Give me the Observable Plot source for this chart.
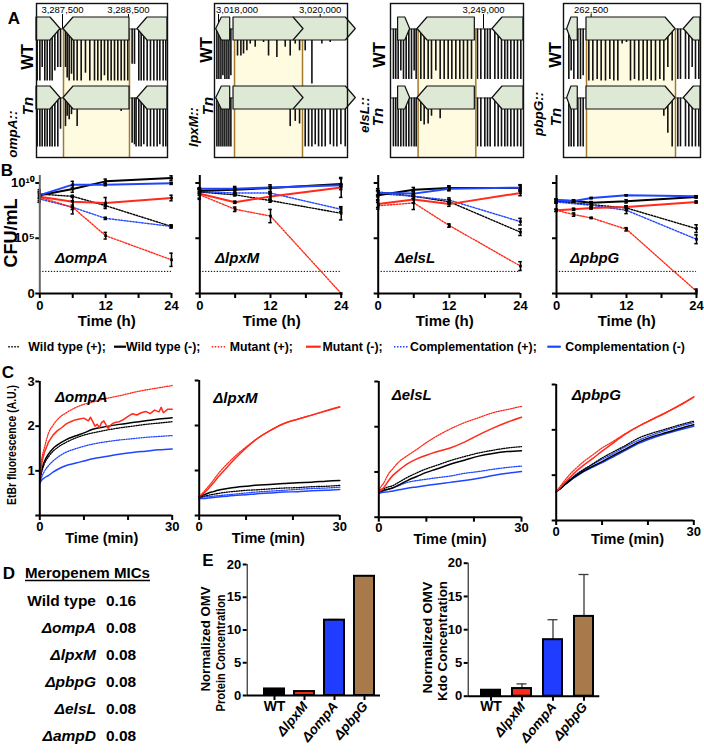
<!DOCTYPE html>
<html><head><meta charset="utf-8">
<script src="https://cdn.jsdelivr.net/npm/d3@7"></script>
<script src="https://cdn.jsdelivr.net/npm/@observablehq/plot@0.6"></script>
<style>
body{margin:0;background:#fff;}
#fig{position:relative;width:704px;height:754px;overflow:hidden;background:#fff;}
#fig svg{overflow:visible;}
.ax g[aria-label*="axis"] line,.ax g[aria-label*="axis"] path{stroke-width:2px;}
</style>
</head><body><div id="fig"></div>
<script>
// ================= DATA =================
// ---- Panel A: Tn-seq insertion profiles (genome bp, normalized reads 0-100) ----
const ompA_domain = [3287106, 3289091];
const ompA_ticks = [3287500, 3288500];
const ompA_genes = [[3287000, 3287470, 1], [3287515, 3288515, -1], [3288636, 3289200, -1]];
const ompA_target = [3287515, 3288515];
const ompA_sites = [3287116,3287157,3287192,3287232,3287268,3287308,3287343,3287384,3287429,3287470,
  3287545,3287571,3287601,3287636,3287672,3287722,3287783,3287848,3287914,3287985,3288035,3288086,3288136,3288187,3288237,3288288,3288338,3288389,3288439,3288490,
  3288555,3288591,3288615,
  3288656,3288692,3288732,3288783,3288833,3288884,3288934,3288975,3289025,3289065];
const ompA_wtReads = [100,100,74,100,100,100,100,81,74,74,
  74,94,100,87,100,100,100,85,100,100,100,100,90,100,100,100,100,100,100,100,
  68,68,0,
  100,100,100,100,100,100,100,100,100,100];
const ompA_tnReads = [94,94,94,94,94,94,94,94,94,60,
  55,35,42,32,23,55,0,0,0,0,0,0,0,0,0,0,0,26,0,0,
  87,90,94,
  94,94,90,94,94,94,94,90,94,94];

const lpxM_domain = [3017921, 3020537];
const lpxM_ticks = [3018000, 3020000];
const lpxM_genes = [[3017955, 3018230, -1], [3019475, 3020700, 1], [3018295, 3019672, 1]];
const lpxM_target = [3018315, 3019652];
const lpxM_sites = [3017968,3018007,3018047,3018086,3018125,3018165,3018204,3018243,
  3018374,3018440,3018492,3018558,3018624,3018722,3018886,3018984,3019148,3019312,3019410,3019509,3019594,
  3019705,3019771,3019837,3019902,3019968,3020033,3020099,3020197,3020263,3020328,3020407,3020492];
const lpxM_wtReads = [97,97,97,90,97,97,97,90,
  52,52,48,42,29,35,26,52,55,35,52,29,42,
  42,0,106,0,0,29,0,26,0,0,0,0];
const lpxM_tnReads = [94,94,94,94,94,94,94,94,
  0,0,0,0,0,0,0,0,0,0,55,45,50,
  94,94,94,90,94,94,94,90,94,94,90,94];

const elsL_domain = [3247605, 3249600];
const elsL_ticks = [3249000];
const elsL_genes = [[3247719, 3247899, 1], [3248010, 3248870, -1], [3249135, 3249700, -1]];
const elsL_target = [3248019, 3248885];
const elsL_sites = [3247649,3247684,3247720,3247760,3247800,3247840,3247880,3247920,3247960,3247990,
  3248060,3248110,3248170,3248220,3248285,3248350,3248410,3248470,3248525,3248585,3248645,3248700,3248760,3248820,
  3248910,3248960,3249020,3249060,3249100,
  3249170,3249220,3249270,3249320,3249360,3249410,3249460,3249510,3249560];
const elsL_wtReads = [97,97,97,81,97,97,97,97,81,97,
  97,97,97,97,81,97,97,97,97,97,97,97,97,97,
  97,97,97,97,97,
  97,97,97,97,97,97,97,97,97];
const elsL_tnReads = [94,94,94,94,94,94,94,94,94,94,
  45,52,50,35,0,40,0,0,0,0,0,0,0,0,
  94,94,94,94,94,
  94,94,94,94,94,94,94,94,94];

const pbpG_domain = [262085, 264140];
const pbpG_ticks = [262500];
const pbpG_genes = [[262140, 262299, -1], [262430, 263765, 1], [263889, 264300, -1]];
const pbpG_target = [262430, 263765];
const pbpG_sites = [262165,262200,262240,262300,262340,262380,
  262465,262525,262590,262650,262715,262780,262840,262900,262965,263030,263090,263150,263215,263280,263340,263400,263465,263530,263590,263650,263715,
  263800,263840,
  263915,263965,264015,264065,264115];
const pbpG_wtReads = [97,81,97,97,97,90,
  100,100,97,100,100,97,100,100,29,26,100,97,100,100,97,100,100,97,100,74,100,
  97,97,
  97,97,74,97,97];
const pbpG_tnReads = [94,94,94,94,94,94,
  0,0,0,0,0,0,0,0,0,0,0,0,0,0,0,0,0,0,35,68,94,
  94,94,
  94,94,94,94,94];

// ---- Panel B: survival, log10 CFU/mL; series order: WT(+), WT(-), Mutant(+), Mutant(-), Comp(+), Comp(-) ----
const seriesNames = ["Wild type (+);", "Wild type (-);", "Mutant (+);", "Mutant (-);", "Complementation (+);", "Complementation (-)"];
const cfuTimes = [0, 6, 12, 24];
const cfuTimesPbpG = [0, 3, 6, 12, 24];
const cfuLOD = 2;
const cfuOmpA = [[9.0, 8.79, 7.95, 6.07], [8.9, 9.46, 10.15, 10.45], [8.7, 7.8, 5.23, 3.05], [8.76, 8.3, 8.19, 8.64], [8.55, 7.8, 6.8, 6.07], [8.9, 9.85, 9.85, 9.97]];
const cfuOmpA_sd = [[0.4, 0.1, 0.1, 0.1], [0.3, 0.3, 0.2, 0.2], [0.3, 0.6, 0.3, 0.6], [0.5, 0.5, 0.5, 0.25], [0.3, 0.2, 0.1, 0.15], [0.2, 0.3, 0.1, 0.1]];
const cfuLpxM = [[9.18, 8.93, 8.41, 7.26], [9.3, 9.39, 9.54, 9.9], [8.93, 7.62, 7.01, 0], [9.02, 8.26, 8.78, 9.6], [9.24, 9.09, 9.09, 7.62], [9.48, 9.48, 9.6, 9.79]];
const cfuLpxM_sd = [[0.3, 0.1, 0.15, 0.6], [0.2, 0.3, 0.3, 0.5], [0.3, 0.2, 0.6, 0], [0.5, 0.1, 0.3, 0.9], [0.2, 0.1, 0.1, 0.2], [0.1, 0.1, 0.1, 0.1]];
const cfuElsL = [[9.19, 8.8, 8.3, 5.55], [8.9, 9.4, 9.55, 9.55], [7.94, 8.2, 6.15, 2.48], [8.09, 8.5, 8.09, 9.1], [9.04, 8.8, 8.45, 6.5], [9.1, 9.04, 9.49, 9.58]];
const cfuElsL_sd = [[0.3, 0.2, 0.2, 0.3], [0.4, 0.2, 0.2, 0.3], [0.3, 0.6, 0.15, 0.4], [0.3, 0.3, 0.2, 0.25], [0.3, 0.2, 0.2, 0.3], [0.2, 0.2, 0.2, 0.2]];
const cfuPbpG = [[8.34, null, 8.04, 7.74, 5.87], [8.43, 8.37, 8.22, 8.34, 8.73], [7.53, 7.14, 6.84, 5.81, 0.2], [7.53, 7.62, 7.74, 7.83, 8.28], [8.28, null, 7.98, 7.53, 4.91], [8.43, 8.37, 8.64, 8.89, 8.8]];
const cfuPbpG_sd = [[0.15, 0, 0.2, 0.2, 0.35], [0.15, 0.1, 0.1, 0.15, 0.1], [0.1, 0.15, 0.05, 0.15, 0.2], [0.1, 0.1, 0.1, 0.1, 0.1], [0.1, 0, 0.3, 0.3, 0.4], [0.1, 0.1, 0.05, 0.05, 0.05]];
const cfuTickLabels = ["0", "10⁵", "10¹⁰"];

// ---- Panel C: EtBr fluorescence (A.U.) over time (min) ----
const etbrTime = [0, 0.5, 1, 2, 3, 4, 6, 8, 10, 12, 15, 18, 21, 24, 27, 30];
const etbrOmpA = [
  [0.8, 1.0, 1.15, 1.32, 1.44, 1.52, 1.64, 1.73, 1.8, 1.85, 1.91, 1.96, 2.0, 2.04, 2.07, 2.1],
  [0.8, 1.05, 1.2, 1.38, 1.5, 1.58, 1.7, 1.78, 1.85, 1.93, 1.99, 2.04, 2.08, 2.12, 2.16, 2.19],
  [0.9, 1.3, 1.5, 1.85, 2.02, 2.15, 2.3, 2.41, 2.49, 2.54, 2.62, 2.68, 2.75, 2.81, 2.86, 2.91],
  null,
  [0.75, 0.88, 0.98, 1.12, 1.22, 1.3, 1.42, 1.49, 1.55, 1.6, 1.65, 1.69, 1.72, 1.75, 1.77, 1.79],
  [0.72, 0.8, 0.84, 0.9, 0.97, 1.03, 1.12, 1.17, 1.22, 1.27, 1.32, 1.37, 1.41, 1.44, 1.47, 1.49]];
const etbrOmpA_mutMinusTime = [0,0.5,1,2,3,4,5,6,7,8,9,10,11,11.5,12,12.5,13,13.5,14,14.5,15,15.5,16,16.5,17,18,19,20,21,22,23,24,25,26,27,27.5,28,29,30];
const etbrOmpA_mutMinus = [0.85,1.2,1.4,1.65,1.8,1.9,1.97,2.05,2.1,2.14,2.16,2.18,2.12,2.2,2.1,2.0,2.04,1.97,2.08,2.12,2.03,1.95,2.02,2.06,2.08,2.1,2.15,2.22,2.28,2.25,2.3,2.33,2.28,2.36,2.32,2.42,2.3,2.38,2.38];
const etbrLpxM = [
  [0.41, 0.42, 0.43, 0.45, 0.47, 0.49, 0.52, 0.54, 0.56, 0.57, 0.59, 0.61, 0.62, 0.64, 0.65, 0.67],
  [0.41, 0.44, 0.46, 0.5, 0.53, 0.56, 0.6, 0.63, 0.65, 0.67, 0.69, 0.71, 0.73, 0.74, 0.76, 0.78],
  [0.41, 0.47, 0.53, 0.65, 0.78, 0.92, 1.15, 1.35, 1.52, 1.68, 1.88, 2.04, 2.14, 2.23, 2.33, 2.42],
  [0.41, 0.46, 0.5, 0.6, 0.72, 0.85, 1.08, 1.3, 1.5, 1.68, 1.88, 2.04, 2.14, 2.23, 2.32, 2.41],
  [0.39, 0.4, 0.41, 0.42, 0.43, 0.44, 0.46, 0.48, 0.5, 0.52, 0.54, 0.56, 0.58, 0.6, 0.61, 0.63],
  [0.37, 0.38, 0.38, 0.39, 0.4, 0.41, 0.43, 0.45, 0.46, 0.48, 0.5, 0.52, 0.53, 0.55, 0.56, 0.58]];
const etbrElsL = [
  [0.59, 0.61, 0.63, 0.67, 0.7, 0.76, 0.88, 0.98, 1.07, 1.14, 1.25, 1.34, 1.42, 1.48, 1.53, 1.56],
  [0.55, 0.57, 0.59, 0.62, 0.65, 0.7, 0.81, 0.9, 0.99, 1.06, 1.17, 1.26, 1.35, 1.41, 1.45, 1.47],
  [0.59, 0.68, 0.75, 0.95, 1.08, 1.2, 1.36, 1.5, 1.65, 1.78, 1.95, 2.09, 2.2, 2.31, 2.38, 2.45],
  [0.55, 0.6, 0.65, 0.8, 0.93, 1.02, 1.18, 1.29, 1.37, 1.44, 1.53, 1.66, 1.82, 1.97, 2.1, 2.21],
  [0.55, 0.57, 0.59, 0.62, 0.65, 0.69, 0.77, 0.81, 0.84, 0.87, 0.91, 0.97, 1.01, 1.06, 1.1, 1.13],
  [0.53, 0.54, 0.55, 0.56, 0.58, 0.6, 0.64, 0.67, 0.7, 0.73, 0.77, 0.81, 0.86, 0.92, 0.97, 1.01]];
const etbrPbpG = [
  [0.63, 0.68, 0.72, 0.82, 0.9, 0.98, 1.12, 1.25, 1.38, 1.49, 1.65, 1.82, 1.93, 2.02, 2.11, 2.19],
  [0.63, 0.67, 0.71, 0.8, 0.88, 0.96, 1.09, 1.2, 1.3, 1.41, 1.57, 1.73, 1.85, 1.94, 2.03, 2.11],
  [0.63, 0.7, 0.77, 0.9, 1.02, 1.12, 1.3, 1.45, 1.6, 1.72, 1.91, 2.08, 2.24, 2.39, 2.54, 2.72],
  [0.63, 0.69, 0.74, 0.85, 0.95, 1.05, 1.22, 1.37, 1.53, 1.68, 1.9, 2.08, 2.23, 2.38, 2.55, 2.73],
  [0.63, 0.68, 0.72, 0.82, 0.9, 0.99, 1.13, 1.24, 1.35, 1.45, 1.62, 1.77, 1.89, 1.99, 2.08, 2.16],
  [0.63, 0.67, 0.71, 0.8, 0.88, 0.95, 1.08, 1.18, 1.28, 1.38, 1.54, 1.7, 1.82, 1.92, 2.0, 2.08]];

// ---- Panel D: Meropenem MICs ----
const micStrains = ["Wild type", "ΔompA", "ΔlpxM", "ΔpbpG", "ΔelsL", "ΔampD"];
const micValues = [0.16, 0.08, 0.08, 0.08, 0.08, 0.08];

// ---- Panel E: normalized OMV ----
const omvStrains = ["WT", "ΔlpxM", "ΔompA", "ΔpbpG"];
const omvProtein = [1.0, 0.6, 11.5, 18.2];
const omvProtein_sd = [0.05, 0.05, 0.1, 0.1];
const omvKdo = [0.9, 1.15, 8.5, 12.0];
const omvKdo_sd = [0, 0.7, 3.0, 6.3];

// ================= STYLE =================
const FONT = '"Liberation Sans", Arial, Helvetica, sans-serif';
const seriesColors = ["#000000", "#000000", "#ff2a1a", "#ff2a1a", "#1f45ff", "#1f45ff"];
const seriesDotted = [true, false, true, false, true, false];
const omvColors = ["#000000", "#ff2a1a", "#1f3cff", "#a8794a"];
const baseStyle = {fontFamily: FONT, fontSize: "13px", fontWeight: "bold", color: "#000", background: "transparent", overflow: "visible"};

const fig = document.getElementById("fig");
function place(node, left, top, cls) {
  const d = document.createElement("div");
  d.style.position = "absolute"; d.style.left = left + "px"; d.style.top = top + "px";
  if (cls) d.className = cls;
  d.appendChild(node); fig.appendChild(d);
}

// ---------- Panel A ----------
function trackPlot(t, x0, x1) {
  const W = x1 - x0, H = 154;
  const bpPx = (t.domain[1] - t.domain[0]) / W;
  const lanes = [{base: 25.5, reads: t.wt}, {base: 94.5, reads: t.tn}];
  const half = 11.5, k = 0.52;
  const genePts = [];
  lanes.forEach((ln, li) => t.genes.forEach(([s, e, str], gi) => {
    const s2 = Math.max(s, t.domain[0]), e2 = Math.min(e, t.domain[1]);
    const tip = Math.min(10 * bpPx, 0.4 * (e - s));
    const top = ln.base - half, bot = ln.base + half, id = li + "-" + gi;
    if (str > 0) genePts.push({id, x: s2, y1: top, y2: bot}, {id, x: e - tip, y1: top, y2: bot}, {id, x: e, y1: ln.base, y2: ln.base});
    else genePts.push({id, x: s, y1: ln.base, y2: ln.base}, {id, x: s + tip, y1: top, y2: bot}, {id, x: e2, y1: top, y2: bot});
  }));
  const bars = [];
  lanes.forEach(ln => t.sites.forEach((x, i) => { if (ln.reads[i] > 0) bars.push({x, y1: ln.base, y2: ln.base + ln.reads[i] * k}); }));
  const labelX = t.ticks.map(v => {
    const px = (v - t.domain[0]) / bpPx;
    return t.domain[0] + Math.max(22.5, Math.min(W - 22.5, px)) * bpPx;
  });
  const svg = Plot.plot({
    width: W + 2, height: H + 2, margin: 1,
    x: {domain: t.domain, axis: null},
    y: {domain: [0, H], range: [1, H + 1], axis: null},
    style: baseStyle,
    marks: [
      Plot.rect([t.target], {x1: d => d[0], x2: d => d[1], y1: 25.5, y2: H, fill: "#fffbe1"}),
      Plot.ruleY(lanes, {y: "base", stroke: "#333", strokeWidth: 1}),
      Plot.ruleX(t.ticks, {x: d => d, y1: 11, y2: 25.5, stroke: "#000", strokeWidth: 1}),
      Plot.ruleX(bars, {x: "x", y1: "y1", y2: "y2", stroke: "#111", strokeWidth: 1.6}),
      Plot.ruleX(t.target, {x: d => d, y1: 25.5, y2: H, stroke: "#a27a2c", strokeWidth: 1.5}),
      Plot.areaY(genePts, {x: "x", y1: "y1", y2: "y2", z: "id", fill: "#dde9d4", stroke: "#111", strokeWidth: 1.2}),
      Plot.text(t.ticks, {x: (d, i) => labelX[i], y: 6.5, text: d => d3.format(",")(d), fontSize: 9.5, fontWeight: "normal"}),
      Plot.frame({stroke: "#111", strokeWidth: 1.4})
    ]
  });
  place(svg, x0 - 1, 2);
}
trackPlot({domain: ompA_domain, ticks: ompA_ticks, genes: ompA_genes, target: ompA_target, sites: ompA_sites, wt: ompA_wtReads, tn: ompA_tnReads}, 36, 167);
trackPlot({domain: lpxM_domain, ticks: lpxM_ticks, genes: lpxM_genes, target: lpxM_target, sites: lpxM_sites, wt: lpxM_wtReads, tn: lpxM_tnReads}, 214, 347);
trackPlot({domain: elsL_domain, ticks: elsL_ticks, genes: elsL_genes, target: elsL_target, sites: elsL_sites, wt: elsL_wtReads, tn: elsL_tnReads}, 390, 523);
trackPlot({domain: pbpG_domain, ticks: pbpG_ticks, genes: pbpG_genes, target: pbpG_target, sites: pbpG_sites, wt: pbpG_wtReads, tn: pbpG_tnReads}, 563, 700);

// ---------- Panel B ----------
function cfuPlot(times, means, sds, g, showY) {
  const rows = [];
  means.forEach((arr, si) => arr.forEach((v, i) => { if (v != null) rows.push({s: si, t: times[i], v, e: sds[si][i]}); }));
  const marks = [Plot.ruleY([cfuLOD], {x1: 0, x2: 24, stroke: "#000", strokeWidth: 1, strokeDasharray: "1.3,1.6"})];
  for (const si of [0, 4, 2, 1, 5, 3]) {
    marks.push(Plot.line(rows.filter(r => r.s === si), {x: "t", y: "v", stroke: seriesColors[si],
      strokeWidth: seriesDotted[si] ? 1.4 : 2, strokeDasharray: seriesDotted[si] ? "1.5,1.5" : "none"}));
  }
  const eb = rows.filter(r => r.e > 0);
  marks.push(
    Plot.ruleX(eb, {x: "t", y1: r => r.v - r.e, y2: r => r.v + r.e, stroke: "#000", strokeWidth: 1.5}),
    Plot.ruleY(eb, {y: r => r.v + r.e, x1: r => r.t - 0.3, x2: r => r.t + 0.3, stroke: "#000", strokeWidth: 1.5}),
    Plot.ruleY(eb, {y: r => r.v - r.e, x1: r => r.t - 0.3, x2: r => r.t + 0.3, stroke: "#000", strokeWidth: 1.5}),
    Plot.dot(rows, {x: "t", y: "v", r: 1.5, fill: "#000", symbol: "square"}),
    Plot.ruleX([0], {stroke: showY ? "#666" : "#000", strokeWidth: 2}),
    Plot.ruleY([0], {stroke: "#000", strokeWidth: 2})
  );
  const svg = Plot.plot({
    width: g.w, height: 170, marginLeft: g.ml, marginRight: g.mr, marginTop: 10, marginBottom: 42,
    x: {domain: [0, 24], ticks: [0, 6, 12, 18, 24], tickFormat: d => d % 12 === 0 ? String(d) : "", tickSize: 5, tickPadding: 2, label: null},
    y: {domain: [0, 10.68], ticks: [0, 5, 10], tickFormat: (d, i) => showY ? cfuTickLabels[i] : "", tickSize: 4, tickPadding: 1, label: null},
    style: baseStyle,
    marks
  });
  place(svg, g.left, 165, "ax");
}
cfuPlot(cfuTimes, cfuOmpA, cfuOmpA_sd, {left: 0, w: 180, ml: 39.3, mr: 9}, true);
cfuPlot(cfuTimes, cfuLpxM, cfuLpxM_sd, {left: 180, w: 175, ml: 19.3, mr: 14.3}, false);
cfuPlot(cfuTimes, cfuElsL, cfuElsL_sd, {left: 355, w: 175, ml: 22.7, mr: 10}, false);
cfuPlot(cfuTimesPbpG, cfuPbpG, cfuPbpG_sd, {left: 535, w: 169, ml: 21, mr: 8}, false);

// ---------- Panel C ----------
function etbrPlot(series, g, showY, extra) {
  const marks = [];
  for (const si of [4, 5, 0, 1, 2, 3]) {
    let rows;
    if (series[si]) rows = etbrTime.map((t, i) => ({t, v: series[si][i]}));
    else rows = extra.time.map((t, i) => ({t, v: extra.values[i]}));
    marks.push(Plot.line(rows, {x: "t", y: "v", stroke: seriesColors[si], curve: series[si] ? "monotone-x" : "linear",
      strokeWidth: seriesDotted[si] ? 1.3 : 1.5, strokeDasharray: seriesDotted[si] ? "1.2,1.3" : "none"}));
  }
  marks.push(Plot.ruleX([0], {stroke: "#000", strokeWidth: 2}), Plot.ruleY([0], {stroke: "#000", strokeWidth: 2}));
  const svg = Plot.plot({
    width: g.w, height: 180, marginLeft: g.ml, marginRight: g.mr, marginTop: g.mt, marginBottom: g.mb,
    x: {domain: [0, 30], ticks: [0, 10, 20, 30], tickFormat: d => (d === 0 || d === 30) ? String(d) : "", tickSize: 5, tickPadding: 1, label: null},
    y: {domain: [0, 3], ticks: [0, 1, 2, 3], tickFormat: d => (showY && d > 0) ? String(d) : "", tickSize: 4, tickPadding: 1, label: null},
    style: baseStyle,
    marks
  });
  place(svg, g.left, 365, "ax");
}
etbrPlot(etbrOmpA, {left: 0, w: 180, ml: 39.3, mr: 8.3, mt: 16, mb: 30}, true, {time: etbrOmpA_mutMinusTime, values: etbrOmpA_mutMinus});
etbrPlot(etbrLpxM, {left: 180, w: 170, ml: 18.7, mr: 10.7, mt: 15, mb: 30}, false);
etbrPlot(etbrElsL, {left: 355, w: 175, ml: 23.3, mr: 9, mt: 16, mb: 28.3}, false);
etbrPlot(etbrPbpG, {left: 535, w: 165, ml: 20.7, mr: 6.7, mt: 19, mb: 25}, false);

// ---------- Panel E ----------
function omvPlot(values, sds, g) {
  const rows = omvStrains.map((c, i) => ({c, v: values[i], e: sds[i], fill: omvColors[i]}));
  const eb = rows.filter(r => r.e > 0);
  const svg = Plot.plot({
    width: 165, height: 209, marginLeft: g.ml, marginRight: g.mr, marginTop: g.mt, marginBottom: g.mb,
    x: {type: "band", domain: omvStrains, range: g.range, paddingInner: g.pi, paddingOuter: g.po, tickSize: 5, tickFormat: () => "", label: null},
    y: {domain: [0, 20], ticks: [0, 5, 10, 15, 20], tickSize: 4, tickPadding: 2, label: null, line: true},
    color: {type: "identity"},
    style: baseStyle,
    marks: [
      Plot.ruleX(eb, {x: "c", y1: "v", y2: r => r.v + r.e, stroke: "#3a3a3a", strokeWidth: 1.3}),
      Plot.tickY(eb, {x: "c", y: r => r.v + r.e, insetLeft: 4.5, insetRight: 4.5, stroke: "#3a3a3a", strokeWidth: 1.3}),
      Plot.barY(rows, {x: "c", y: "v", fill: r => r.fill, stroke: "#000", strokeWidth: 2}),
      Plot.ruleY([0], {stroke: "#000", strokeWidth: 2}),
      Plot.text(omvStrains.slice(0, 1), {x: d => d, frameAnchor: "bottom", dy: 15, fontSize: 14, fontWeight: "bold"}),
      Plot.text(omvStrains.slice(1), {x: d => d, frameAnchor: "bottom", dy: 11, dx: 4, rotate: -50, textAnchor: "end", fontSize: 13.5, fontWeight: "bold", fontStyle: "italic"})
    ]
  });
  place(svg, g.left, 545, "ax");
}
omvPlot(omvProtein, omvProtein_sd, {left: 225, ml: 21.7, mr: 10, mt: 19, mb: 59, range: [32, 155], pi: 0.35, po: 0.175});
omvPlot(omvKdo, omvKdo_sd, {left: 445, ml: 22.7, mr: 10.7, mt: 17.7, mb: 58.3, range: [28.7, 155.6], pi: 0.38, po: 0.2});

// ---------- Text overlay (panel letters, axis titles, legend, table D) ----------
const ov = d3.create("svg").attr("width", 704).attr("height", 754)
  .style("position", "absolute").style("left", "0px").style("top", "0px")
  .style("font-family", FONT).style("font-weight", "bold").style("overflow", "visible");
function txt(x, y, s, o = {}) {
  const t = ov.append("text").attr("x", x).attr("y", y).attr("dominant-baseline", "central")
    .attr("text-anchor", o.anchor || "middle").attr("font-size", o.size || 13).text(s);
  if (o.italic) t.attr("font-style", "italic");
  if (o.weight) t.attr("font-weight", o.weight);
  if (o.rot) t.attr("x", 0).attr("y", 0).attr("transform", `translate(${x},${y}) rotate(${o.rot})`);
  if (o.len) t.attr("textLength", o.len).attr("lengthAdjust", "spacingAndGlyphs");
  return t;
}
// panel letters
txt(14, 18.5, "A", {size: 17}); txt(7, 170, "B", {size: 17}); txt(8, 372, "C", {size: 17});
txt(9, 573, "D", {size: 17}); txt(208, 560.5, "E", {size: 17});
// panel A labels
const aLabels = [
  {wt: [27, 57], g: "ompA::", gp: [12.5, 134], tn: [27, 106]},
  {wt: [206, 50], g: "lpxM::", gp: [193.5, 127], tn: [207, 106]},
  {wt: [379, 55], g: "elsL::", gp: [364, 115], tn: [377.5, 117]},
  {wt: [555, 55], g: "pbpG::", gp: [538.5, 114], tn: [555, 117]}];
aLabels.forEach(a => {
  txt(a.wt[0], a.wt[1], "WT", {size: 16.5, rot: -90});
  txt(a.gp[0], a.gp[1], a.g, {size: 13.5, rot: -90, italic: true});
  txt(a.tn[0], a.tn[1], "Tn", {size: 15, rot: -90, italic: true});
});
// panel B titles
txt(11, 233, "CFU/mL", {size: 18, rot: -90});
[106.7, 271.7, 444.7, 626.7].forEach(x => txt(x, 320, "Time (h)", {size: 15}));
const mutNames = ["ΔompA", "ΔlpxM", "ΔelsL", "ΔpbpG"];
[55, 215, 395, 570].forEach((x, i) => txt(x, 257.7, mutNames[i], {size: 15, anchor: "start", italic: true}));
// legend
const legY = 346.7;
const legSample = [[8.3, 19], [114, 126], [211.7, 225], [306, 320.7], [394, 407.7], [547.3, 560.8]];
const legTextX = [28.3, 126, 229.7, 322.5, 410, 565.3];
seriesNames.forEach((n, i) => {
  ov.append("line").attr("x1", legSample[i][0]).attr("x2", legSample[i][1]).attr("y1", legY).attr("y2", legY)
    .attr("stroke", seriesColors[i]).attr("stroke-width", seriesDotted[i] ? 1.5 : 2.2)
    .attr("stroke-dasharray", seriesDotted[i] ? "1.5,1.5" : null);
  txt(legTextX[i], legY, n, {size: 12.3, anchor: "start"});
});
// panel C titles
txt(12, 445, "EtBr fluorescence (A.U.)", {size: 12.5, rot: -90, len: 120});
[[101.7, 537.5], [268.3, 537.5], [450, 539], [627.5, 539]].forEach(p => txt(p[0], p[1], "Time (min)", {size: 14.5}));
[[55, 396.7], [213.3, 397], [391.7, 394], [571.7, 394]].forEach((p, i) => txt(p[0], p[1], mutNames[i], {size: 15, anchor: "start", italic: true}));
// panel D table
txt(25, 573, "Meropenem MICs", {size: 14.5, anchor: "start", len: 125});
ov.append("line").attr("x1", 25).attr("x2", 150).attr("y1", 580.5).attr("y2", 580.5).attr("stroke", "#000").attr("stroke-width", 1.3);
const micY = [600, 627.3, 654.3, 681.7, 708.3, 735];
micStrains.forEach((s, i) => {
  txt(96, micY[i], s, {size: 15.5, anchor: "end", italic: i > 0});
  txt(106, micY[i], micValues[i].toFixed(2), {size: 15.5, anchor: "start"});
});
// panel E titles
txt(205, 639, "Normalized OMV", {size: 13, rot: -90, len: 105});
txt(220, 653, "Protein Concentration", {size: 13, rot: -90, len: 117});
txt(427.5, 637.5, "Normalized OMV", {size: 13, rot: -90, len: 112});
txt(442.5, 641, "Kdo Concentration", {size: 13, rot: -90, len: 120});
fig.appendChild(ov.node());
</script></body></html>
